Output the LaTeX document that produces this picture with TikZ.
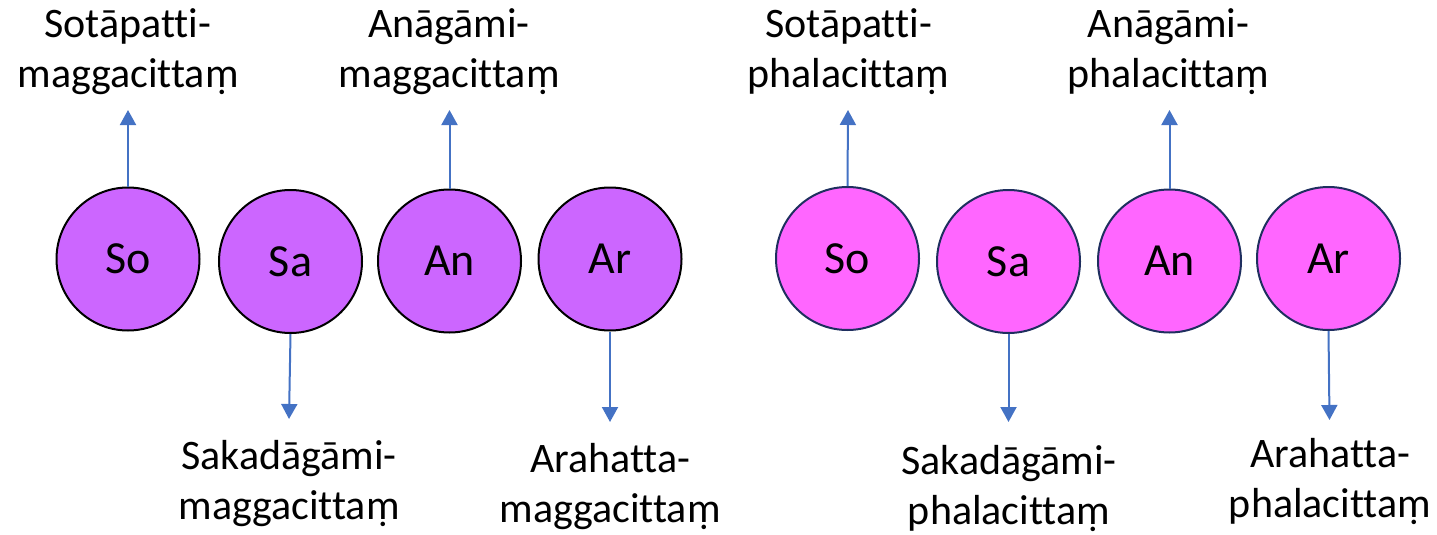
\documentclass[tikz,border=0pt]{standalone}
\usepackage{fontspec}
\setmainfont[Ligatures=NoCommon]{Carlito}
\usetikzlibrary{arrows.meta}

\definecolor{maggafill}{HTML}{CC66FF}
\definecolor{phalafill}{HTML}{FF66FF}
\definecolor{phalaline}{HTML}{1F2F5F}
\definecolor{arrowblue}{HTML}{4472C4}

\tikzset{
  citta/.style={circle, minimum size=143pt, inner sep=0pt, line width=2pt,
    font=\fontsize{46}{55}\selectfont},
  magga/.style={citta, draw=black, fill=maggafill},
  phala/.style={citta, draw=phalaline, fill=phalafill},
  label text/.style={align=center, inner sep=0pt, anchor=north,
    font=\fontsize{42}{50}\selectfont},
  pointer/.style={draw=arrowblue, line width=2pt,
    -{Triangle[width=16pt,length=15pt]}}
}

\begin{document}
\begin{tikzpicture}[x=1pt, y=-1pt]
\useasboundingbox (0,0) rectangle (1437,535);

% magga group
\node[magga] (mso) at (128,259)   {So};
\node[magga] (msa) at (290.5,261.5) {Sa};
\node[magga] (man) at (449.5,261) {An};
\node[magga] (mar) at (610,259)   {Ar};

% phala group
\node[phala] (pso) at (847.5,258.5) {So};
\node[phala] (psa) at (1008.5,261.5) {Sa};
\node[phala] (pan) at (1169.5,261) {An};
\node[phala] (par) at (1328.5,258.5) {Ar};

% arrow ends
\coordinate (msoend) at (128,110);
\coordinate (msaend) at (289,419);
\coordinate (manend) at (449.5,110);
\coordinate (marend) at (610,422);
\coordinate (psoend) at (848,110);
\coordinate (psaend) at (1008.5,422);
\coordinate (panend) at (1169.5,110);
\coordinate (parend) at (1329.5,420);

\draw[pointer] (mso.north) -- (msoend);
\draw[pointer] (msa.south) -- (msaend);
\draw[pointer] (man.north) -- (manend);
\draw[pointer] (mar.south) -- (marend);
\draw[pointer] (pso.north) -- (psoend);
\draw[pointer] (psa.south) -- (psaend);
\draw[pointer] (pan.north) -- (panend);
\draw[pointer] (par.south) -- (parend);

% labels (node top = first baseline - 35)
\node[label text] (lmso) at (128,2)     {\strut Sotāpatti-\\\strut maggacittaṃ};
\node[label text] (lman) at (449,2)     {\strut Anāgāmi-\\\strut maggacittaṃ};
\node[label text] (lmsa) at (289,434)   {\strut Sakadāgāmi-\\\strut maggacittaṃ};
\node[label text] (lmar) at (610,437)   {\strut Arahatta-\\\strut maggacittaṃ};
\node[label text] (lpso) at (848.5,2)   {\strut Sotāpatti-\\\strut phalacittaṃ};
\node[label text] (lpan) at (1168.5,2)  {\strut Anāgāmi-\\\strut phalacittaṃ};
\node[label text] (lpsa) at (1009,439)  {\strut Sakadāgāmi-\\\strut phalacittaṃ};
\node[label text] (lpar) at (1330,432)  {\strut Arahatta-\\\strut phalacittaṃ};
\end{tikzpicture}
\end{document}
